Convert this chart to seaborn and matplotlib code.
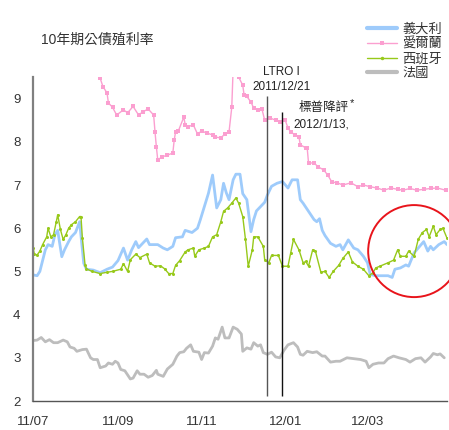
import matplotlib
matplotlib.use("Agg")
import matplotlib.pyplot as plt
import matplotlib.dates as mdates
from matplotlib.lines import Line2D
from matplotlib.patches import Ellipse
import seaborn as sns
import pandas as pd

# ---------------- data (days since 2011-07-01, yield %) ----------------
START = "2011-07-01"

italy_days = [0,3,5,9,11,14,16,18,21,23,26,28,31,34,37,39,44,49,54,58,62,66,69,72,75,77,83,85,91,95,
              98,102,104,109,111,116,120,122,125,128,131,134,137,139,141,143,146,148,151,153,156,159,161,163,166,169,171,174,178,182,
              186,189,193,195,197,201,205,207,209,211,213,217,221,224,226,230,234,237,241,244,246,250,253,259,262,264,268,272,274,278,
              281,285,288,290,292,296,300,302]
italy_vals = [4.92,4.90,5.00,5.50,5.62,5.58,5.85,5.95,5.34,5.50,5.69,5.80,5.90,6.15,5.19,5.05,5.03,4.97,5.05,5.10,
              5.25,5.54,5.26,5.50,5.69,5.55,5.75,5.62,5.62,5.54,5.50,5.58,5.78,5.80,5.95,5.90,6.00,6.19,6.50,6.81,
              7.23,6.47,6.66,7.04,6.82,6.66,7.12,7.25,7.25,6.80,6.66,5.92,6.20,6.40,6.50,6.60,6.77,6.97,7.04,7.08,
              6.93,7.12,7.12,6.66,6.58,6.39,6.20,6.15,6.22,5.95,5.83,5.65,5.58,5.62,5.50,5.73,5.54,5.50,5.35,5.20,
              4.93,4.90,4.90,4.90,4.86,5.05,5.08,5.15,5.12,5.43,5.54,5.69,5.47,5.58,5.50,5.62,5.69,5.62]

ireland_days = [0,12,21,31,39,44,49,51,54,55,58,61,66,69,73,77,80,84,88,89,90,91,94,98,102,103,104,106,110,111,113,
                117,120,123,127,131,133,137,140,143,145,146,148,150,153,154,156,159,161,164,167,169,173,177,180,184,186,188,191,194,195,
                199,200,201,205,208,212,215,218,222,226,232,237,241,246,251,256,261,266,270,275,280,285,290,295,301]
ireland_vals = [11.8,13.5,12.5,10.5,9.56,9.80,9.47,9.28,9.13,8.90,8.80,8.62,8.74,8.67,8.82,8.62,8.69,8.76,8.62,8.23,7.88,
                7.58,7.65,7.69,7.74,8.04,8.23,8.25,8.57,8.40,8.35,8.39,8.18,8.25,8.20,8.16,8.11,8.09,8.18,8.23,8.80,
                9.70,9.55,9.50,9.31,9.08,9.05,8.92,8.78,8.74,8.76,8.50,8.55,8.50,8.46,8.50,8.32,8.23,8.16,8.11,7.93,
                7.86,7.86,7.51,7.51,7.42,7.35,7.23,7.07,7.05,7.00,7.05,6.96,7.00,6.96,6.93,6.88,6.93,6.90,6.88,6.92,
                6.88,6.90,6.92,6.93,6.88]

spain_days = [0,1,3,5,7,10,11,13,15,17,18,20,22,24,26,28,31,34,35,36,38,39,43,49,54,58,64,66,69,71,
              75,78,83,85,89,93,96,99,102,104,107,111,113,117,118,121,125,128,131,134,137,139,142,145,148,150,153,155,157,160,
              161,164,168,169,172,174,179,182,186,188,190,194,197,199,201,204,206,210,213,216,219,223,226,230,233,237,241,245,248,250,
              253,259,263,266,268,272,274,278,281,284,287,289,292,294,297,299,302]
spain_vals = [5.55,5.40,5.38,5.47,5.62,5.80,6.00,5.80,5.85,6.15,6.31,5.97,5.74,5.85,6.00,6.08,6.15,6.27,6.27,5.78,
              5.14,5.06,5.00,4.95,4.98,5.00,5.05,5.18,5.00,5.27,5.40,5.32,5.40,5.20,5.12,5.13,5.06,4.95,4.95,5.14,
              5.25,5.45,5.50,5.54,5.35,5.50,5.54,5.58,5.80,5.85,6.15,6.39,6.47,6.58,6.70,6.58,6.27,5.74,5.12,5.50,
              5.80,5.80,5.58,5.27,5.20,5.37,5.37,5.12,5.12,5.43,5.74,5.50,5.20,5.23,5.12,5.50,5.47,4.98,5.00,4.86,
              5.00,5.14,5.30,5.45,5.22,5.12,5.05,4.90,4.97,5.08,5.12,5.20,5.26,5.50,5.35,5.35,5.47,5.35,5.74,5.90,
              5.97,5.80,6.05,5.85,5.97,6.00,5.77]

france_days = [0,3,6,9,12,15,18,22,25,27,30,32,36,39,42,44,47,49,53,55,58,60,62,64,67,71,73,76,78,81,
               84,87,90,91,95,98,102,105,107,110,112,115,117,121,123,125,128,131,133,135,138,140,143,146,149,152,153,156,159,161,
               164,166,168,171,174,177,180,183,186,190,193,195,197,200,204,207,211,213,217,221,224,229,234,239,243,245,248,252,256,259,
               263,267,272,275,279,283,286,290,292,295,297,300]
france_vals = [3.40,3.41,3.47,3.37,3.42,3.35,3.35,3.41,3.37,3.25,3.22,3.15,3.19,3.20,3.00,2.96,2.96,2.77,2.81,2.88,
               2.85,2.92,2.88,2.73,2.70,2.51,2.53,2.70,2.62,2.62,2.55,2.59,2.71,2.62,2.57,2.74,2.85,3.04,3.12,3.14,
               3.22,3.30,3.15,3.13,2.96,3.12,3.11,3.27,3.46,3.43,3.71,3.46,3.46,3.71,3.66,3.55,3.15,3.23,3.20,3.35,
               3.27,3.30,3.12,3.08,3.13,3.02,3.00,3.17,3.30,3.35,3.25,3.08,3.06,3.15,3.12,3.14,3.04,3.04,2.90,2.92,
               2.92,3.00,2.98,2.96,2.92,2.77,2.85,2.88,2.88,2.98,3.04,3.00,2.96,2.90,2.98,3.00,2.90,3.02,3.10,3.07,
               3.09,3.00]

series_names = ["義大利", "愛爾蘭", "西班牙", "法國"]
tick_dates = ["2011-07-01", "2011-09-01", "2011-11-01", "2012-01-01", "2012-03-01"]
tick_labels = ["11/07", "11/09", "11/11", "12/01", "12/03"]
y_ticks = [2, 3, 4, 5, 6, 7, 8, 9]
event_dates = ["2011-12-19", "2011-12-30"]
event_labels = [("LTRO I", "2011/12/21"), ("標普降評", "2012/1/13,")]
title = "10年期公債殖利率"

# ---------------- style ----------------
sns.set_style("white")
plt.rcParams["font.family"] = ["Liberation Sans", "Noto Sans CJK TC", "DejaVu Sans"]

def to_dates(days):
    return pd.Timestamp(START) + pd.to_timedelta(days, unit="D")

fig = plt.figure(figsize=(4.49, 4.30), dpi=100)
ax = fig.add_axes([33/449, 29/430, 414/449, 324/430])

C_IT, C_IE, C_ES, C_FR = "#9ecbfb", "#fb9fd0", "#97c91a", "#bdbdbd"

sns.lineplot(x=to_dates(france_days), y=france_vals, ax=ax, color=C_FR, lw=2.0)
sns.lineplot(x=to_dates(italy_days), y=italy_vals, ax=ax, color=C_IT, lw=2.0)
sns.lineplot(x=to_dates(ireland_days), y=ireland_vals, ax=ax, color=C_IE, lw=1.0,
             marker="s", markersize=3.4, markeredgewidth=0)
sns.lineplot(x=to_dates(spain_days), y=spain_vals, ax=ax, color=C_ES, lw=1.0,
             marker="o", markersize=2.2, markeredgewidth=0)

# event lines
ax.vlines(pd.Timestamp(event_dates[0]), 2.12, 9.05, color="#555555", lw=1.0)
ax.vlines(pd.Timestamp(event_dates[1]), 2.12, 8.70, color="#111111", lw=1.0)

ax.text(pd.Timestamp("2011-12-29"), 9.62, event_labels[0][0], ha="center", va="center",
        fontsize=8.5, color="#222222", clip_on=False)
ax.text(pd.Timestamp("2011-12-29"), 9.27, event_labels[0][1], ha="center", va="center",
        fontsize=8.5, color="#222222", clip_on=False)
ax.text(pd.Timestamp("2012-01-11"), 8.78, event_labels[1][0], ha="left", va="center",
        fontsize=9, color="#222222")
ax.text(pd.Timestamp("2012-02-17"), 8.90, "*", ha="left", va="center",
        fontsize=8, color="#222222")
ax.text(pd.Timestamp("2012-01-07"), 8.41, event_labels[1][1], ha="left", va="center",
        fontsize=8.5, color="#222222")

# red highlight circle
ax.add_patch(Ellipse((mdates.date2num(pd.Timestamp("2012-04-04")), 5.47), width=67, height=2.13,
                     fill=False, edgecolor="#e8141b", lw=1.4, clip_on=False, zorder=5))

# axes
ax.set_xlim(pd.Timestamp("2011-07-01"), pd.Timestamp("2012-04-28"))
ax.set_ylim(2, 9.5)
ax.set_xticks([pd.Timestamp(d) for d in tick_dates])
ax.set_xticklabels(tick_labels)
ax.set_yticks(y_ticks)
ax.set_yticklabels([str(v) for v in y_ticks])
ax.set_xlabel("")
ax.set_ylabel("")
for s in ["top", "right"]:
    ax.spines[s].set_visible(False)
ax.spines["left"].set_color("#808080")
ax.spines["left"].set_linewidth(1.6)
ax.spines["bottom"].set_color("#555555")
ax.spines["bottom"].set_linewidth(1.0)
ax.tick_params(axis="both", direction="in", length=4, width=1, color="#555555",
               labelcolor="#333333", labelsize=9.5)
ax.tick_params(axis="y", pad=9)
ax.tick_params(axis="x", pad=11)
ax.grid(False)

fig.text(41/449, 1 - 40/430, title, ha="left", va="center", fontsize=10, color="#333333")

handles = [
    Line2D([], [], color=C_IT, lw=3),
    Line2D([], [], color=C_IE, lw=1, marker="s", markersize=3.5, markeredgewidth=0),
    Line2D([], [], color=C_ES, lw=1, marker="o", markersize=2.5, markeredgewidth=0),
    Line2D([], [], color=C_FR, lw=3),
]
leg = fig.legend(handles, series_names, loc="upper left", bbox_to_anchor=(367/449, 1 - 23/430),
                 frameon=False, fontsize=9.5, handlelength=2.3, handletextpad=0.4,
                 labelspacing=0.17, borderpad=0, borderaxespad=0, numpoints=1)
for t in leg.get_texts():
    t.set_color("#333333")

fig.savefig("out.png", dpi=100)
